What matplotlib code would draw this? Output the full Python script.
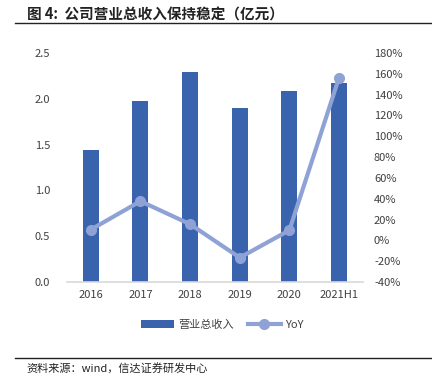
import matplotlib
matplotlib.use("Agg")
import matplotlib.pyplot as plt
from matplotlib.ticker import FuncFormatter, MultipleLocator

plt.rcParams['font.family'] = ['Noto Sans CJK SC', 'DejaVu Sans']

categories = ["2016", "2017", "2018", "2019", "2020", "2021H1"]
revenue = [1.44, 1.98, 2.29, 1.90, 2.08, 2.17]
yoy = [10.3, 37.6, 15.5, -16.6, 9.7, 156.3]

bar_color = "#3A63AD"
line_color = "#8EA2D6"
text_color = "#404040"

fig = plt.figure(figsize=(4.32, 3.78), dpi=100)
ax = fig.add_axes([0.155, 0.254, 0.685, 0.606])
x = list(range(len(categories)))
bars = ax.bar(x, revenue, width=0.32, color=bar_color, label="营业总收入", zorder=2)
ax.set_ylim(0, 2.5)
ax.set_xlim(-0.48, 5.48)
ax.yaxis.set_major_locator(MultipleLocator(0.5))
ax.yaxis.set_major_formatter(FuncFormatter(lambda v, p: f"{v:.1f}"))
ax.set_xticks(x)
ax.set_xticklabels(categories)
for s in ["top", "right", "left"]:
    ax.spines[s].set_visible(False)
ax.spines["bottom"].set_color("#D9D9D9")
ax.spines["bottom"].set_linewidth(1.2)
ax.tick_params(axis="both", length=0, labelsize=8, colors=text_color, pad=6)
ax.tick_params(axis="y", pad=12)

ax2 = ax.twinx()
line, = ax2.plot(x, yoy, color=line_color, linewidth=3, marker="o", markersize=7, label="YoY", zorder=3)
ax2.set_ylim(-40, 180)
ax2.yaxis.set_major_locator(MultipleLocator(20))
ax2.yaxis.set_major_formatter(FuncFormatter(lambda v, p: f"{v:.0f}%"))
for s in ["top", "right", "left", "bottom"]:
    ax2.spines[s].set_visible(False)
ax2.tick_params(axis="y", length=0, labelsize=8, colors=text_color, pad=8)

fig.legend([bars, line], ["营业总收入", "YoY"], loc="center", bbox_to_anchor=(0.515, 0.14),
           ncol=2, frameon=False, fontsize=8, handlelength=3.0, columnspacing=1.2,
           handletextpad=0.4, labelcolor=text_color)

fig.text(0.062, 0.962, "图 4:  公司营业总收入保持稳定（亿元）", fontsize=10.5, fontweight="bold",
         color="#222222", va="center", ha="left")
fig.add_artist(plt.Line2D([0.035, 1.0], [0.938, 0.938], color="#222222", linewidth=1.0))
fig.add_artist(plt.Line2D([0.035, 1.0], [0.053, 0.053], color="#222222", linewidth=1.0))
fig.text(0.062, 0.025, "资料来源：wind，信达证券研发中心", fontsize=8, style="italic",
         color="#222222", va="center", ha="left")

fig.savefig("out.png", dpi=100)
